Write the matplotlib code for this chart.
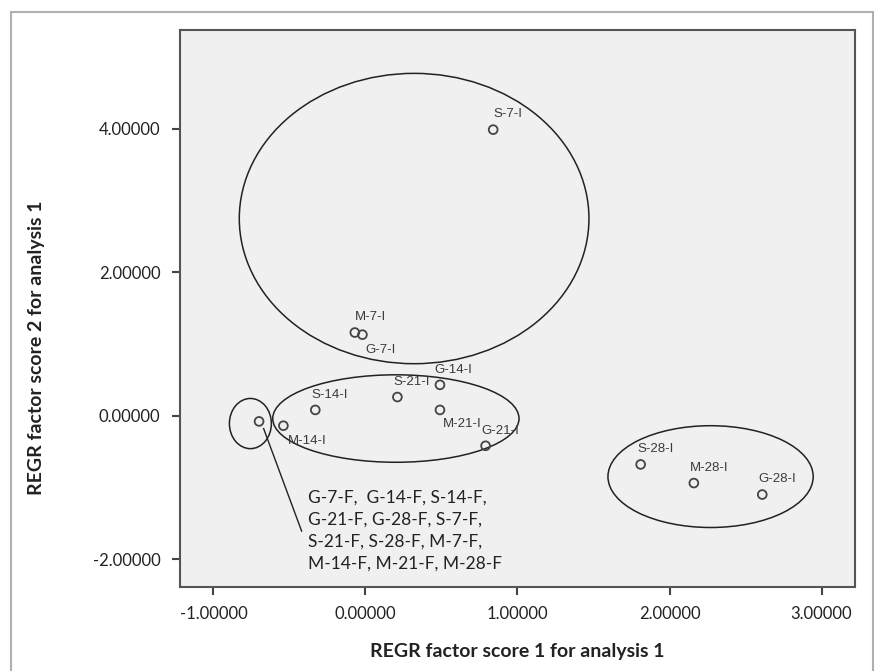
import matplotlib
matplotlib.use("Agg")
import matplotlib.pyplot as plt
from matplotlib.patches import Ellipse, Rectangle

# ---- data ----
labels = ["S-7-I", "M-7-I", "G-7-I", "G-14-I", "S-14-I", "S-21-I", "M-21-I",
          "G-21-I", "M-14-I", "F-group", "S-28-I", "M-28-I", "G-28-I"]
x_vals = [0.84, -0.07, -0.02, 0.49, -0.33, 0.21, 0.49, 0.79, -0.54, -0.70, 1.81, 2.16, 2.61]
y_vals = [3.99, 1.16, 1.13, 0.43, 0.08, 0.26, 0.08, -0.42, -0.14, -0.08, -0.68, -0.94, -1.10]
# label offsets in points (dx, dy)
label_offsets = [(0, 11), (0, 11), (2, -11), (-4, 11), (-3, 11), (-3, 11), (2, -10),
                 (-3, 11), (3, -11), None, (-2, 11), (-3, 11), (-3, 11)]

x_ticks = [-1.0, 0.0, 1.0, 2.0, 3.0]
y_ticks = [-2.0, 0.0, 2.0, 4.0]

# group ellipses: centre x, centre y, width, height
ell_cx = [0.32, 0.20, -0.757, 2.27]
ell_cy = [2.75, -0.04, -0.11, -0.85]
ell_w = [2.30, 1.62, 0.276, 1.35]
ell_h = [4.05, 1.22, 0.70, 1.42]

f_group_text = "G-7-F,  G-14-F, S-14-F,\nG-21-F, G-28-F, S-7-F,\nS-21-F, S-28-F, M-7-F,\nM-14-F, M-21-F, M-28-F"
leader_x = [-0.67, -0.42]
leader_y = [-0.18, -1.61]

# ---- figure ----
fig = plt.figure(figsize=(8.79, 6.71), dpi=100)
fig.patch.set_facecolor("white")
fig.patches.append(Rectangle((11 / 879, -0.01), (873 - 11) / 879, 1 - 12 / 671 + 0.01,
                             transform=fig.transFigure, fill=False,
                             edgecolor="#b0b0b0", linewidth=1.5))

ax = fig.add_axes([180 / 879, 1 - 587 / 671, (855 - 180) / 879, (587 - 30) / 671])
ax.set_facecolor("#f0f0f0")
ax.set_xlim(-1.22, 3.22)
ax.set_ylim(-2.39, 5.38)

for s in ax.spines.values():
    s.set_color("#555555")
    s.set_linewidth(1.5)

ax.scatter(x_vals, y_vals, s=40, facecolors="none", edgecolors="#444444",
           linewidths=1.3, zorder=3)

for lab, x, y, off in zip(labels, x_vals, y_vals, label_offsets):
    if off is None:
        continue
    ax.annotate(lab, (x, y), xytext=off, textcoords="offset points",
                ha="left", va="center", fontsize=9.5, color="#3a3a3a",
                family="Liberation Sans")

for cx, cy, w, h in zip(ell_cx, ell_cy, ell_w, ell_h):
    ax.add_patch(Ellipse((cx, cy), w, h, fill=False, edgecolor="#222222",
                         linewidth=1.1, zorder=2))

ax.plot(leader_x, leader_y, color="#222222", linewidth=1.0)
ax.text(-0.38, -1.60, f_group_text, ha="left", va="center", fontsize=12.5,
        color="#222222", family="Lato", linespacing=1.45)

ax.set_xticks(x_ticks)
ax.set_yticks(y_ticks)
ax.set_xticklabels([f"{v:.5f}" for v in x_ticks])
ax.set_yticklabels([f"{v:.5f}" for v in y_ticks])
ax.tick_params(direction="out", length=6, width=1.5, color="#444444",
               labelsize=12, labelcolor="#222222", pad=8)
for t in ax.get_xticklabels() + ax.get_yticklabels():
    t.set_family("Lato")

ax.set_xlabel("REGR factor score 1 for analysis 1", fontsize=14,
              fontweight="bold", family="Lato", color="#222222")
ax.set_ylabel("REGR factor score 2 for analysis 1", fontsize=14,
              fontweight="bold", family="Lato", color="#222222")
ax.xaxis.set_label_coords(0.5, -0.10)
ax.yaxis.set_label_coords(-0.20, 0.43)

fig.savefig("out.png", dpi=100)
